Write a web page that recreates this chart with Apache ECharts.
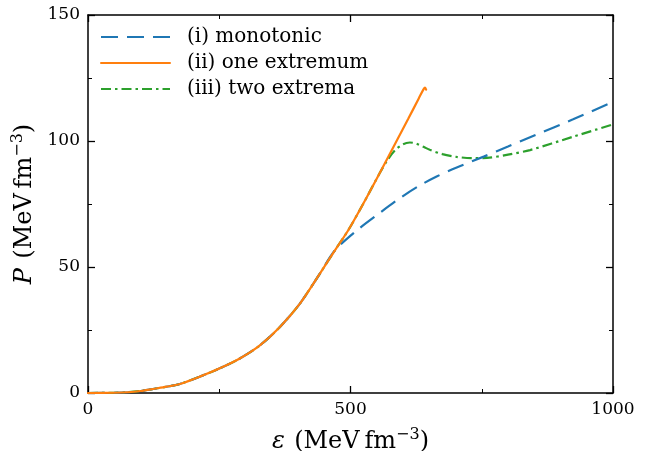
<!DOCTYPE html>
<html>
<head>
<meta charset="utf-8">
<script src="https://cdn.jsdelivr.net/npm/echarts@6/dist/echarts.min.js"></script>
<style>
  html, body { margin: 0; padding: 0; background: #fff; }
  #chart { width: 647px; height: 451px; }
</style>
</head>
<body>
<div id="chart"></div>
<script>
// energy density (MeV fm^-3) and pressure (MeV fm^-3)
const sharedEps = [0, 50, 76, 100, 127, 150, 175, 213, 251, 290, 328, 366, 404, 442, 470]
const sharedP = [0, 0.1, 0.3, 0.8, 1.7, 2.5, 3.6, 6.5, 9.8, 13.8, 19, 26.3, 35.6, 47.5, 56.5]

const oneEps = [496, 524, 556, 590, 610, 630, 639, 642, 644]
const oneP = [64.7, 75, 87.4, 100.9, 108.8, 116.9, 120.5, 121.2, 120.4]

const monoEps = [512, 556, 594, 629, 664, 700, 755, 800, 850, 924, 1000]
const monoP = [64.5, 71.5, 77.3, 82, 85.9, 89.3, 93.9, 97.8, 102.2, 108.6, 115.5]

const twoEps = [496, 524, 556, 570, 585, 600, 613, 625, 640, 651, 675, 702, 730, 760, 800, 842, 924, 1000]
const twoP = [64.7, 75, 87.4, 92.3, 96.4, 98.7, 99.4, 99, 97.6, 96.5, 94.8, 93.7, 93.2, 93.3, 94.6, 96.4, 101.7, 106.6]

const seriesNames = ['(i) monotonic', '(ii) one extremum', '(iii) two extrema']

const pairs = (xs, ys) => xs.map((x, i) => [x, ys[i]])

const serif = 'DejaVu Serif'
const chart = echarts.init(document.getElementById('chart'), null, { renderer: 'canvas' })

const titleRich = {
  i: { fontFamily: serif, fontStyle: 'italic', fontSize: 24, color: '#000', lineHeight: 30, padding: [0, 6, 0, 0] },
  t: { fontFamily: serif, fontSize: 24, color: '#000', lineHeight: 30 },
  s: { fontFamily: serif, fontSize: 16, color: '#000', verticalAlign: 'top', lineHeight: 30 }
}

const baseAxis = {
  type: 'value',
  axisLine: { show: true, onZero: false, lineStyle: { color: '#000', width: 1.5 } },
  axisTick: { show: true, inside: true, length: 7, lineStyle: { color: '#000', width: 1.3 } },
  minorTick: { show: true, splitNumber: 2, length: 4, lineStyle: { color: '#000', width: 1 } },
  splitLine: { show: false },
  minorSplitLine: { show: false }
}

const tickLabel = { fontFamily: serif, fontSize: 17, color: '#000', margin: 8, formatter: v => String(v) }

const option = {
  animation: false,
  backgroundColor: '#fff',
  grid: { left: 88, right: 34, top: 15, bottom: 58, outerBoundsMode: 'none', containLabel: false },
  legend: {
    orient: 'vertical',
    left: 95,
    top: 21,
    itemWidth: 69,
    itemHeight: 12,
    itemGap: 4,
    itemStyle: { opacity: 0 },
    textStyle: { fontFamily: serif, fontSize: 20, color: '#000', padding: [0, 0, 0, 12], lineHeight: 22 },
    data: seriesNames
  },
  xAxis: [
    {
      ...baseAxis,
      min: 0, max: 1000, interval: 500,
      axisLabel: tickLabel,
      name: '{i|ε} {t|(MeV\u2009fm}{s|−3}{t|)}',
      nameLocation: 'middle',
      nameGap: 34,
      nameTextStyle: { rich: titleRich }
    },
    {
      ...baseAxis,
      position: 'top',
      min: 0, max: 1000, interval: 500,
      axisLabel: { show: false }
    }
  ],
  yAxis: [
    {
      ...baseAxis,
      min: 0, max: 150, interval: 50,
      axisLabel: tickLabel,
      name: '{i|P} {t|(MeV\u2009fm}{s|−3}{t|)}',
      nameLocation: 'middle',
      nameRotate: 90,
      nameGap: 48,
      nameTextStyle: { rich: titleRich }
    },
    {
      ...baseAxis,
      position: 'right',
      min: 0, max: 150, interval: 50,
      axisLabel: { show: false }
    }
  ],
  series: [
    {
      name: seriesNames[0],
      type: 'line',
      data: pairs(sharedEps, sharedP).concat(pairs(monoEps, monoP)),
      smooth: 0.3,
      symbol: 'none',
      z: 3,
      lineStyle: { color: '#1f77b4', width: 2.2, type: [17, 9] },
      itemStyle: { color: '#1f77b4' }
    },
    {
      name: seriesNames[1],
      type: 'line',
      data: pairs(sharedEps, sharedP).concat(pairs(oneEps, oneP)),
      smooth: 0.3,
      symbol: 'none',
      z: 4,
      lineStyle: { color: '#ff7f0e', width: 2.2, type: 'solid', cap: 'round' },
      itemStyle: { color: '#ff7f0e' }
    },
    {
      name: seriesNames[2],
      type: 'line',
      data: pairs(sharedEps, sharedP).concat(pairs(twoEps, twoP)),
      smooth: 0.3,
      symbol: 'none',
      z: 2,
      lineStyle: { color: '#2ca02c', width: 2.2, type: [10, 4, 2.5, 4] },
      itemStyle: { color: '#2ca02c' }
    }
  ]
}

chart.setOption(option)
</script>
</body>
</html>
